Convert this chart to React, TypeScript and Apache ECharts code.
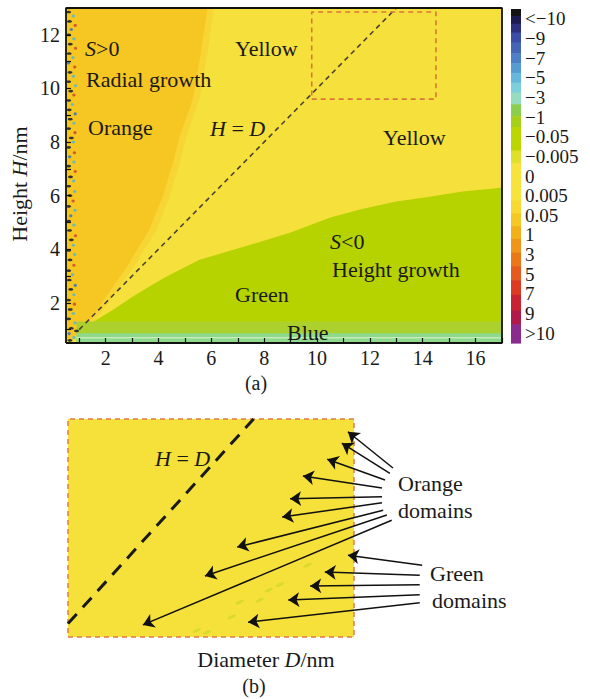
import React, { useEffect, useRef } from "react";
import * as echarts from "echarts";

// ---------- main panel (a) ----------
const xMin = 0.5;
const xMax = 17;
const yMin = 0.5;
const yMax = 13;
const xTickValues = [1, 2, 3, 4, 5, 6, 7, 8, 9, 10, 11, 12, 13, 14, 15, 16, 17];
const xLabelValues = [2, 4, 6, 8, 10, 12, 14, 16];
const yTickValues = [1, 2, 3, 4, 5, 6, 7, 8, 9, 10, 11, 12, 13];
const yLabelValues = [2, 4, 6, 8, 10, 12];

// orange (S>0) domain: right-hand boundary, area above it
const orangeEdge = [
  [0.5, 0.5], [1.13, 0.99], [1.51, 1.48], [2.01, 2.23], [2.89, 3.48], [3.64, 4.72],
  [4.16, 5.96], [4.54, 7.2], [4.8, 8.2], [5.3, 9.6], [5.6, 11.3], [5.85, 13],
];
// lighter transition fringe next to the orange domain
const orangeFringe = [
  [0.6, 0.5], [1.3, 0.99], [1.72, 1.48], [2.25, 2.23], [3.15, 3.48], [3.92, 4.72],
  [4.42, 5.96], [4.8, 7.2], [5.05, 8.2], [5.55, 9.6], [5.85, 11.3], [6.1, 13],
];
// green (S<0) domain: top boundary, area below it
const greenTop = [
  [0.9, 0.5], [0.95, 0.85], [1.13, 0.99], [1.64, 1.36], [2.27, 1.73], [3.02, 2.23],
  [3.64, 2.6], [4.29, 2.97], [5.53, 3.6], [6.81, 3.97], [8.07, 4.34], [9.0, 4.62],
  [9.8, 4.92], [10.5, 5.18], [11.7, 5.5], [13.0, 5.78], [14.2, 5.95], [15.5, 6.15],
  [16.5, 6.25], [17, 6.3],
];
const paleBand = [[0.9, 1.3], [17, 1.3]];
const blueBand = [[0.9, 0.86], [17, 0.86]];
const blueStripe = [[0.9, 0.7], [17, 0.7]];
// speckles in the thin column at the left edge: [D, H, kind]
const speckles = [
  [0.6, 12.85, 0], [0.78, 12.7, 1], [0.63, 12.5, 0], [0.85, 12.35, 2], [0.7, 12.2, 3], [0.6, 12.0, 0],
  [0.8, 11.85, 1], [0.66, 11.65, 0], [0.86, 11.5, 2], [0.62, 11.3, 0], [0.76, 11.15, 1], [0.6, 10.95, 3],
  [0.83, 10.8, 2], [0.65, 10.6, 0], [0.78, 10.45, 1], [0.6, 10.25, 0], [0.86, 10.1, 1], [0.68, 9.9, 0],
  [0.8, 9.75, 2], [0.6, 9.55, 0], [0.74, 9.4, 1], [0.62, 9.2, 0], [0.85, 9.05, 3], [0.66, 8.85, 0],
  [0.8, 8.7, 1], [0.6, 8.5, 0], [0.84, 8.35, 2], [0.7, 8.15, 0], [0.78, 8.0, 1], [0.6, 7.8, 0],
  [0.82, 7.6, 2], [0.64, 7.45, 3], [0.8, 7.25, 1], [0.6, 7.1, 0], [0.85, 6.9, 2], [0.67, 6.7, 0],
  [0.79, 6.55, 1], [0.6, 6.35, 0], [0.83, 6.15, 1], [0.65, 6.0, 0], [0.77, 5.8, 2], [0.6, 5.6, 0],
  [0.84, 5.45, 1], [0.68, 5.25, 3], [0.6, 5.05, 0], [0.8, 4.9, 1], [0.63, 4.7, 0], [0.86, 4.5, 2],
  [0.7, 4.35, 0], [0.78, 4.15, 1], [0.6, 3.95, 0], [0.83, 3.8, 1], [0.65, 3.6, 0], [0.8, 3.4, 2],
  [0.6, 3.2, 0], [0.75, 3.05, 1], [0.62, 2.85, 0], [0.85, 2.65, 3], [0.68, 2.5, 0], [0.8, 2.3, 1],
  [0.6, 2.1, 0], [0.82, 1.95, 2], [0.66, 1.75, 0], [0.78, 1.6, 1], [0.6, 1.4, 0], [0.84, 1.25, 1],
  [0.7, 1.05, 0], [0.9, 0.95, 0], [0.62, 0.85, 3], [0.8, 0.7, 1], [0.65, 0.6, 0],
];
const speckleColors = ["#1f2430", "#5fb8c8", "#d0502e", "#4a78a8"];
const diagonalLine = [[1, 1], [13, 13]];
const insetBox = [[9.8, 9.6], [14.5, 9.6], [14.5, 12.85], [9.8, 12.85], [9.8, 9.6]];
const frameBox = [[xMin, yMin], [xMax, yMin], [xMax, yMax], [xMin, yMax], [xMin, yMin]];

// ---------- colour bar ----------
const cbLabels = [
  "<\u221210", "\u22129", "\u22127", "\u22125", "\u22123", "\u22121", "\u22120.05", "\u22120.005",
  "0", "0.005", "0.05", "1", "3", "5", "7", "9", ">10",
];
const cbEdges = [0, 0.35, 0.75, 1.2, 1.7, 2.25, 2.75, 3.25, 3.75, 4.25, 4.85, 5.45, 6, 7.2, 7.85,
  9.75, 10.4, 11.05, 11.7, 12.4, 13.1, 13.8, 14.55, 15.35, 16.05, 17];
const cbColors = ["#141414", "#1d1b4f", "#2c307e", "#3a4ea6", "#4466b5", "#4d80c4", "#579cd1",
  "#66b7dc", "#7dcfdc", "#95dcc0", "#8ccd4e", "#a6cf18", "#bbd600", "#dfe02a", "#f7e33c",
  "#f8d931", "#f5c823", "#f2b01b", "#ef951a", "#eb7818", "#e55a1e", "#dc3b22", "#c92232",
  "#ae1b4b", "#8b2b8d"];

// ---------- inset panel (b) ----------
const insetXRange = [9.8, 14.5];
const insetYRange = [9.6, 12.85];
const insetDiagonal = [[9.8, 9.8], [12.85, 12.85]];
const orangeArrowTails = [[15.14, 12.12], [15.09, 12.04], [15.01, 11.94], [14.96, 11.82], [14.96, 11.69],
  [14.96, 11.6], [14.98, 11.49], [15.04, 11.42], [15.12, 11.34]];
const orangeArrowHeads = [[14.4, 12.66], [14.3, 12.49], [14.06, 12.25], [13.66, 12.0], [13.45, 11.66],
  [13.32, 11.39], [12.58, 10.94], [12.05, 10.51], [11.03, 9.78]];
const greenArrowTails = [[15.62, 10.67], [15.58, 10.52], [15.58, 10.38], [15.58, 10.23], [15.58, 10.11]];
const greenArrowHeads = [[14.4, 10.82], [14.02, 10.57], [13.78, 10.36], [13.42, 10.15], [12.76, 9.82]];
const greenSpecks = [[13.74, 10.67], [13.28, 10.38], [12.62, 10.12], [12.95, 10.15], [12.49, 9.9],
  [12.08, 9.67], [11.92, 9.7], [13.1, 10.3]];

const SERIF = '"Liberation Serif", "Times New Roman", serif';
const INK = "#1a1a1a";

function areaLine(data: number[][], color: string, origin: string, xi = 0, yi = 0) {
  return {
    type: "line",
    xAxisIndex: xi,
    yAxisIndex: yi,
    data,
    showSymbol: false,
    symbol: "none",
    silent: true,
    lineStyle: { width: 0, opacity: 0 },
    areaStyle: { color, opacity: 1, origin },
  };
}

function plainLine(data: number[][], color: string, width: number, type: any, xi = 0, yi = 0, z = 3) {
  return {
    type: "line",
    xAxisIndex: xi,
    yAxisIndex: yi,
    data,
    showSymbol: false,
    symbol: "none",
    silent: true,
    clip: false,
    z,
    lineStyle: { color, width, type },
  };
}

function txt(text: string, x: number, y: number, size = 22, align = "left") {
  return {
    type: "text",
    x,
    y,
    silent: true,
    z: 20,
    style: {
      text,
      fill: INK,
      font: `${size}px ${SERIF}`,
      fontSize: size,
      fontFamily: SERIF,
      align,
      verticalAlign: "middle",
      rich: {
        i: { fontStyle: "italic", fontSize: size, fontFamily: SERIF, fill: INK },
      },
    },
  };
}

export default function App() {
  const ref = useRef<HTMLDivElement>(null);

  useEffect(() => {
    if (!ref.current) return;
    const chart = echarts.init(ref.current, null, { renderer: "svg" });

    const axisFont = { fontFamily: SERIF, fontSize: 20, color: INK };

    const option: any = {
      animation: false,
      backgroundColor: "#ffffff",
      textStyle: { fontFamily: SERIF },
      grid: [
        { left: 66, top: 8, width: 436, height: 335, show: true, backgroundColor: "#f6e03b", borderWidth: 0 },
        { left: 511, top: 9, width: 10, height: 334, show: false },
        { left: 68, top: 419, width: 286, height: 218, show: true, backgroundColor: "#f6e03a", borderWidth: 0 },
      ],
      xAxis: [
        {
          gridIndex: 0, type: "value", min: xMin, max: xMax, z: 6,
          axisLine: { show: false },
          axisTick: { show: true, inside: true, length: 5, customValues: xTickValues, lineStyle: { color: "#111", width: 1.2 } },
          axisLabel: { show: true, customValues: xLabelValues, margin: 5, ...axisFont },
          splitLine: { show: false },
        },
        { gridIndex: 1, type: "value", min: 0, max: 1, show: false },
        { gridIndex: 2, type: "value", min: insetXRange[0], max: insetXRange[1], show: false },
      ],
      yAxis: [
        {
          gridIndex: 0, type: "value", min: yMin, max: yMax, z: 6,
          axisLine: { show: false },
          axisTick: { show: true, inside: true, length: 5, customValues: yTickValues, lineStyle: { color: "#111", width: 1.2 } },
          axisLabel: { show: true, customValues: yLabelValues, margin: 6, ...axisFont },
          splitLine: { show: false },
        },
        { gridIndex: 1, type: "value", min: 0, max: 17, inverse: true, show: false },
        {
          gridIndex: 1, type: "category", data: cbLabels, inverse: true, position: "right", boundaryGap: true,
          axisLine: { show: false }, axisTick: { show: false }, splitLine: { show: false },
          axisLabel: { show: true, interval: 0, margin: 4, fontFamily: SERIF, fontSize: 19, color: INK },
        },
        { gridIndex: 2, type: "value", min: insetYRange[0], max: insetYRange[1], show: false },
      ],
      series: [
        areaLine(orangeFringe, "#f6d534", "end"),
        areaLine(orangeEdge, "#f6c722", "end"),
        areaLine(greenTop, "#b6d300", "start"),
        areaLine(paleBand, "#acd12e", "start"),
        areaLine(blueBand, "#8fd98d", "start"),
        plainLine(blueStripe, "#c4ecba", 1.5, "solid"),
        {
          type: "scatter",
          xAxisIndex: 0,
          yAxisIndex: 0,
          silent: true,
          z: 4,
          data: speckles,
          symbol: "circle",
          symbolSize: (v: number[]) => (v[2] === 0 ? [5, 2.6] : [3.4, 3]),
          itemStyle: {
            color: (p: any) => speckleColors[p.data[2]],
            opacity: 0.9,
          },
        },
        plainLine(diagonalLine, "#4a4236", 1.6, [5, 4]),
        plainLine(insetBox, "#d9773a", 1.6, [5, 4]),
        plainLine(frameBox, "#111111", 1.8, "solid", 0, 0, 8),
        {
          type: "custom",
          xAxisIndex: 1,
          yAxisIndex: 1,
          silent: true,
          data: cbColors.map((_, i) => [cbEdges[i], cbEdges[i + 1], i]),
          renderItem: (_params: any, api: any) => {
            const a = api.coord([0, api.value(0)]);
            const b = api.coord([1, api.value(1)]);
            return {
              type: "rect",
              shape: {
                x: Math.min(a[0], b[0]),
                y: Math.min(a[1], b[1]),
                width: Math.abs(b[0] - a[0]),
                height: Math.abs(b[1] - a[1]) + 0.6,
              },
              style: { fill: cbColors[api.value(2)] },
            };
          },
        },
        // panel (b)
        {
          type: "scatter",
          xAxisIndex: 2,
          yAxisIndex: 3,
          silent: true,
          data: greenSpecks,
          symbol: "circle",
          symbolSize: [9, 3],
          symbolRotate: 25,
          itemStyle: { color: "#c5d52a", opacity: 0.6 },
        },
        plainLine(insetBox, "#e07a4a", 1.5, [5, 4], 2, 3),
        plainLine(insetDiagonal, "#1a1a1a", 3, [13, 9], 2, 3),
        {
          type: "lines",
          coordinateSystem: "cartesian2d",
          xAxisIndex: 2,
          yAxisIndex: 3,
          silent: true,
          clip: false,
          z: 6,
          symbol: ["none", "arrow"],
          symbolSize: 11,
          lineStyle: { color: "#111111", width: 1.5, opacity: 1, curveness: 0 },
          data: [
            ...orangeArrowTails.map((t, i) => ({ coords: [t, orangeArrowHeads[i]] })),
            ...greenArrowTails.map((t, i) => ({ coords: [t, greenArrowHeads[i]] })),
          ],
        },
      ],
      graphic: [
        {
          type: "text",
          x: 19.5,
          y: 184,
          rotation: Math.PI / 2,
          silent: true,
          style: {
            text: "Height {i|H}/nm",
            fill: INK,
            font: `22px ${SERIF}`,
            fontSize: 22,
            fontFamily: SERIF,
            align: "center",
            verticalAlign: "middle",
            rich: { i: { fontStyle: "italic", fontSize: 22, fontFamily: SERIF, fill: INK } },
          },
        },
        txt("{i|S}>0", 85, 48),
        txt("Radial growth", 86, 79),
        txt("Orange", 88, 127),
        txt("Yellow", 235, 48),
        txt("{i|H} = {i|D}", 210, 128),
        txt("Yellow", 383, 137),
        txt("{i|S}<0", 330, 241),
        txt("Height growth", 332, 269),
        txt("Green", 235, 294),
        txt("Blue", 287, 332),
        txt("(a)", 256, 383, 20, "center"),
        txt("{i|H} = {i|D}", 155, 458),
        txt("Orange", 398, 483),
        txt("domains", 398, 510),
        txt("Green", 430, 573),
        txt("domains", 432, 600),
        txt("Diameter {i|D}/nm", 266, 659, 22, "center"),
        txt("(b)", 254, 686, 20, "center"),
      ],
    };

    chart.setOption(option);
    return () => chart.dispose();
  }, []);

  return (
    <div
      ref={ref}
      style={{ position: "absolute", left: 0, top: 0, width: 590, height: 699 }}
    />
  );
}
